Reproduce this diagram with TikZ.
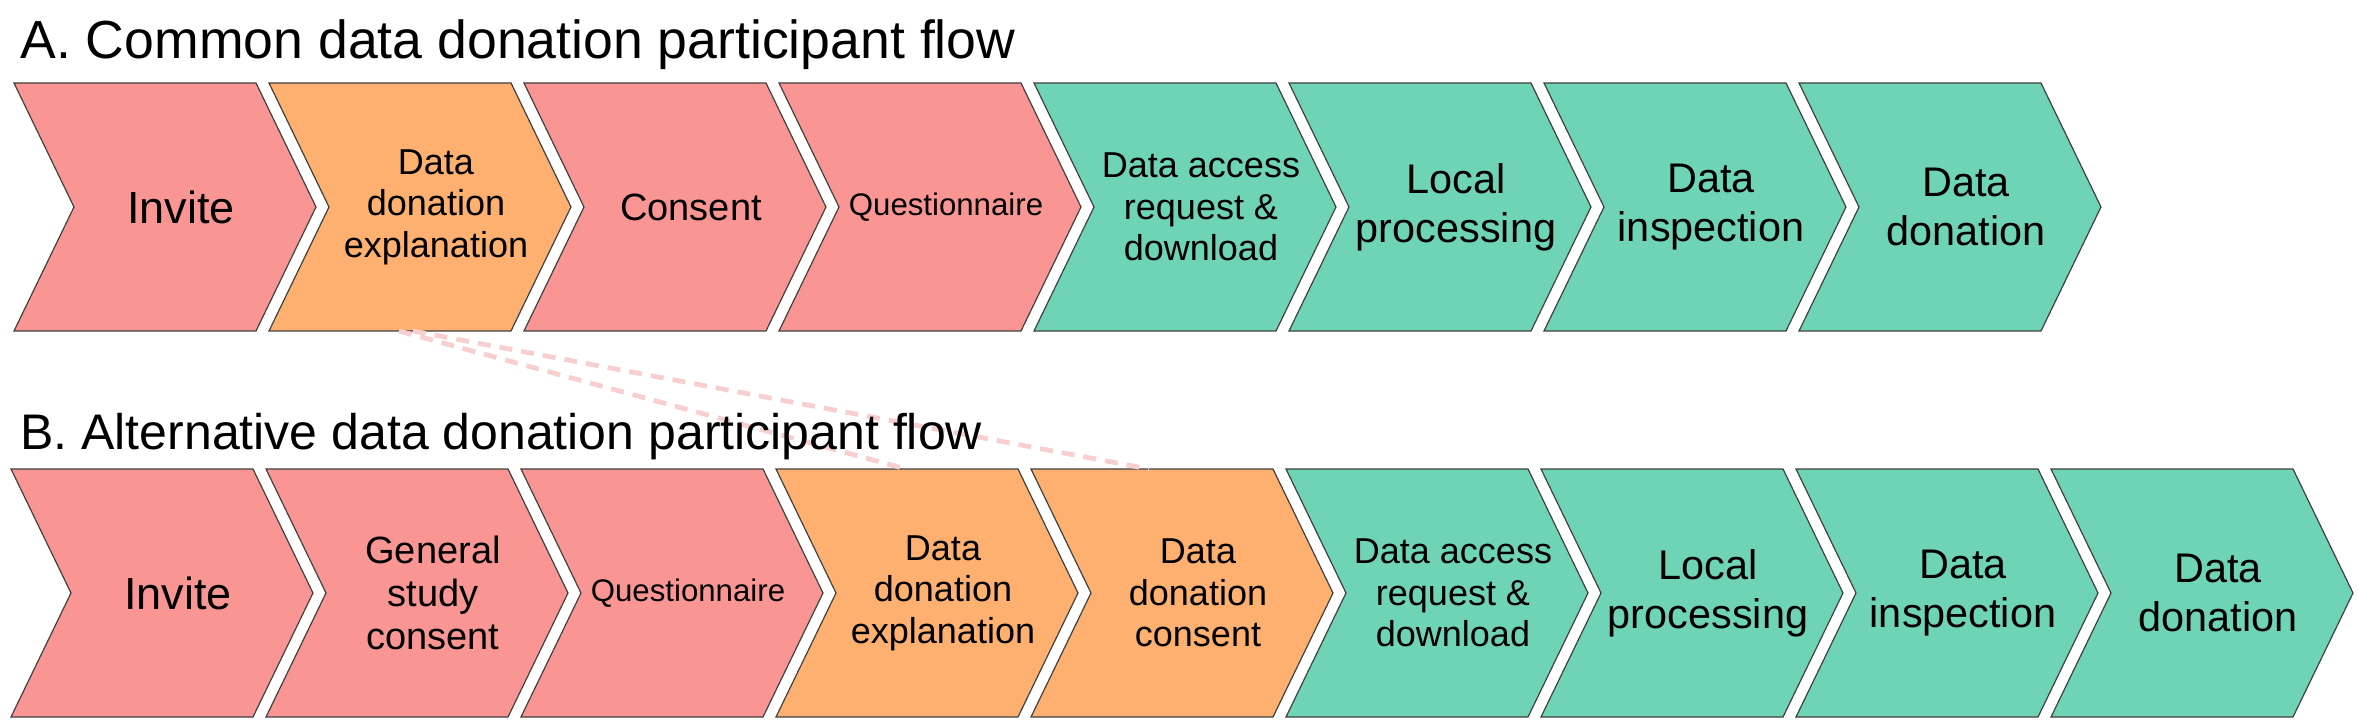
\documentclass[tikz,border=0pt]{standalone}
\usepackage{fontspec}
\setmainfont{Liberation Sans}
\usepackage{xcolor}
\usepackage{tikz}
\definecolor{flowpink}{HTML}{F99694}
\definecolor{flowamber}{HTML}{FDB06F}
\definecolor{flowgreen}{HTML}{6FD3B5}
\definecolor{linkpink}{HTML}{F7CFCF}
\newcommand{\drawchevron}[6]{
	\draw[chevline, fill=#3] (#1,#2) -- ++(242,0) -- ++(60,124) -- ++(-60,124)
		-- ++(-242,0) -- ++(60,-124) -- cycle;
	\node[#4] (#5) at ({#1+167},{#2+124}) {#6};
	\coordinate (#5n) at ({#1+130},#2);
	\coordinate (#5s) at ({#1+130},{#2+248});
}

\begin{document}
\begin{tikzpicture}[x=0.5pt, y=-0.5pt,
		chevline/.style={draw=black!75, line width=0.6pt},
		chevtext/.style={align=center, inner sep=0pt, text=black},
		hugetext/.style={chevtext, font=\fontsize{22.5}{26}\selectfont},
		bigtext/.style={chevtext, font=\fontsize{20.7}{24.5}\selectfont},
		largetext/.style={chevtext, font=\fontsize{19}{21.7}\selectfont},
		midtext/.style={chevtext, font=\fontsize{18}{20.7}\selectfont},
		smalltext/.style={chevtext, font=\fontsize{15.6}{18}\selectfont},
		titletext/.style={anchor=base west, inner sep=0pt},
		linkline/.style={draw=linkpink, line width=2.4pt, dash pattern=on 6.5pt off 4.5pt}]
		\useasboundingbox (0,0) rectangle (2358,727);
		% common flow
		\drawchevron{14}{83}{flowpink}{hugetext}{a1}{Invite}
		\drawchevron{269}{83}{flowamber}{midtext}{a2}{Data\\donation\\explanation}
		\drawchevron{524}{83}{flowpink}{largetext}{a3}{Consent}
		\drawchevron{779}{83}{flowpink}{smalltext}{a4}{Questionnaire}
		\drawchevron{1034}{83}{flowgreen}{midtext}{a5}{Data access\\request \&\\download}
		\drawchevron{1289}{83}{flowgreen}{bigtext}{a6}{Local\\processing}
		\drawchevron{1544}{83}{flowgreen}{bigtext}{a7}{Data\\inspection}
		\drawchevron{1799}{83}{flowgreen}{bigtext}{a8}{Data\\donation}
		% alternative flow
		\drawchevron{11}{469}{flowpink}{hugetext}{b1}{Invite}
		\drawchevron{266}{469}{flowpink}{largetext}{b2}{General\\study\\consent}
		\drawchevron{521}{469}{flowpink}{smalltext}{b3}{Questionnaire}
		\drawchevron{776}{469}{flowamber}{midtext}{b4}{Data\\donation\\explanation}
		\drawchevron{1031}{469}{flowamber}{midtext}{b5}{Data\\donation\\consent}
		\drawchevron{1286}{469}{flowgreen}{midtext}{b6}{Data access\\request \&\\download}
		\drawchevron{1541}{469}{flowgreen}{bigtext}{b7}{Local\\processing}
		\drawchevron{1796}{469}{flowgreen}{bigtext}{b8}{Data\\inspection}
		\drawchevron{2051}{469}{flowgreen}{bigtext}{b9}{Data\\donation}
		% links between the flows
		\draw[linkline] (a2s) -- (b4n);
		\draw[linkline] ([xshift=7pt]a2s) -- ([xshift=-6pt]b5n);
		% titles
		\node[titletext, font=\fontsize{26.8}{30}\selectfont] (titleA) at (20,59)
			{A. Common data donation participant flow};
		\node[titletext, font=\fontsize{25}{30}\selectfont] (titleB) at (20,450)
			{B. Alternative data donation participant flow};
\end{tikzpicture}
\end{document}
